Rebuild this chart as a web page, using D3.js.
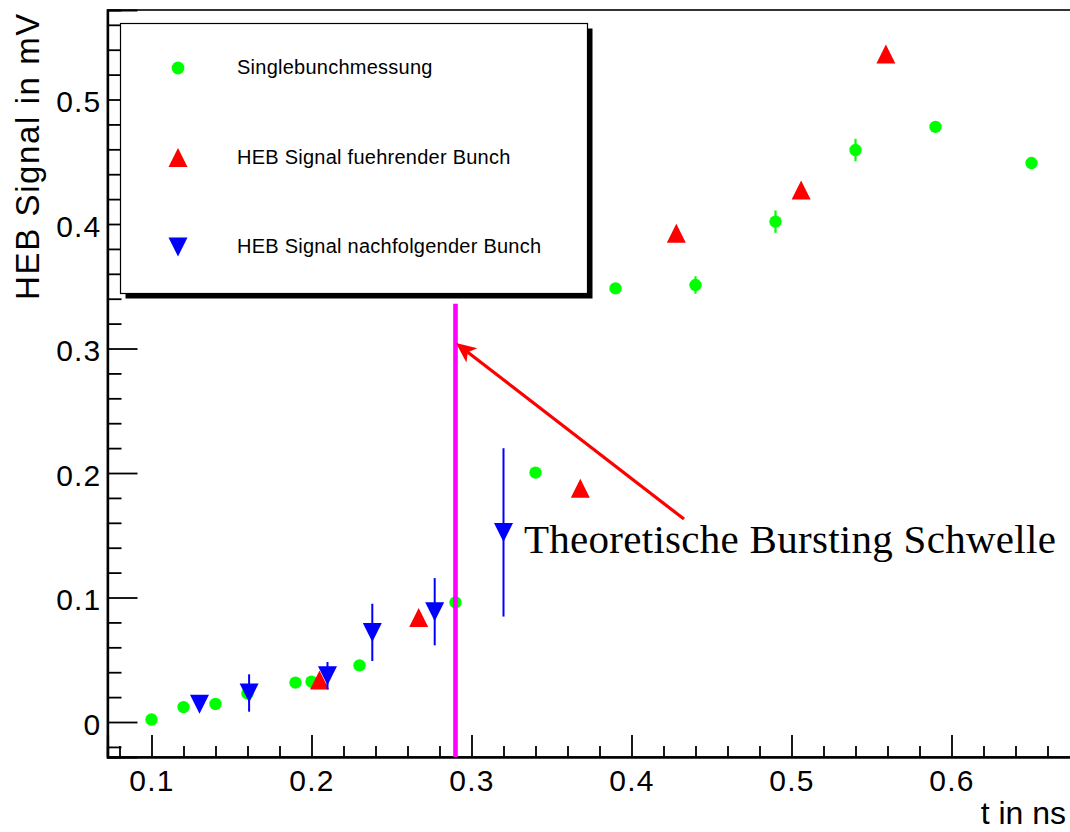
<!DOCTYPE html>
<html>
<head>
<meta charset="utf-8">
<script src="https://cdn.jsdelivr.net/npm/d3@7"></script>
<style>
  html, body { margin: 0; padding: 0; background: #fff; }
  svg { display: block; }
</style>
</head>
<body>
<svg id="chart" width="1070" height="832"></svg>
<script>
// ---- data ----
const singleX   = [0.10, 0.12, 0.14, 0.16, 0.19, 0.20, 0.23, 0.29, 0.34, 0.39, 0.44, 0.49, 0.54, 0.59, 0.65];
const singleY   = [0.002, 0.012, 0.0145, 0.023, 0.0316, 0.0324, 0.0455, 0.0961, 0.2003, 0.3483, 0.351, 0.4019, 0.4594, 0.478, 0.449];
const singleErr = [0, 0, 0, 0, 0, 0, 0, 0, 0, 0, 0.007, 0.009, 0.009, 0, 0];

const leadX = [0.205, 0.267, 0.368, 0.428, 0.506, 0.559];
const leadY = [0.0337, 0.084, 0.1877, 0.3925, 0.4273, 0.5366];

const trailX   = [0.13, 0.161, 0.21, 0.238, 0.277, 0.32];
const trailY   = [0.0142, 0.0233, 0.0372, 0.072, 0.0886, 0.1523];
const trailErr = [0, 0.015, 0.011, 0.023, 0.027, 0.0676];

const xMajorTicks = [0.1, 0.2, 0.3, 0.4, 0.5, 0.6];
const yMajorTicks = [0, 0.1, 0.2, 0.3, 0.4, 0.5];
const xTickLabels = ["0.1", "0.2", "0.3", "0.4", "0.5", "0.6"];
const yTickLabels = ["0", "0.1", "0.2", "0.3", "0.4", "0.5"];

const legendLabels = ["Singlebunchmessung", "HEB Signal fuehrender Bunch", "HEB Signal nachfolgender Bunch"];
const xTitle = "t in ns";
const yTitle = "HEB Signal in mV";
const annotationText = "Theoretische Bursting Schwelle";
const thresholdX = 0.29;
const thresholdTopY = 0.336;
const arrowFrom = [0.4328, 0.163];
const arrowTo = [0.2903, 0.3044];

// ---- layout ----
const svg = d3.select("#chart");
const X0 = 107.5, X1 = 1079.5, Y0 = 757, Y1 = 10;
const x = d3.scaleLinear().domain([0.0725, 0.68]).range([X0, X1]);
const y = d3.scaleLinear().domain([-0.0281, 0.5719]).range([Y0, Y1]);

const sans = "'Liberation Sans', Arial, Helvetica, sans-serif";
const serif = "'Liberation Serif', 'Times New Roman', serif";

// frame
svg.append("rect").attr("x", X0).attr("y", Y1).attr("width", X1 - X0).attr("height", Y0 - Y1)
  .attr("fill", "none").attr("stroke", "#000").attr("stroke-width", 1.6);

// minor ticks
const xMinor = d3.range(0.08, 0.681, 0.02).map(v => +v.toFixed(2)).filter(v => xMajorTicks.indexOf(v) < 0);
const yMinor = d3.range(-0.02, 0.571, 0.02).map(v => +v.toFixed(2)).filter(v => yMajorTicks.indexOf(v) < 0);

const gxMinor = svg.append("g").attr("transform", `translate(0,${Y0})`)
  .call(d3.axisBottom(x).tickValues(xMinor).tickSize(-11).tickFormat(""));
const gyMinor = svg.append("g").attr("transform", `translate(${X0},0)`)
  .call(d3.axisLeft(y).tickValues(yMinor).tickSize(-14).tickFormat(""));

const gx = svg.append("g").attr("transform", `translate(0,${Y0})`)
  .call(d3.axisBottom(x).tickValues(xMajorTicks).tickSize(-22).tickPadding(13)
    .tickFormat((d, i) => xTickLabels[i]));
const gy = svg.append("g").attr("transform", `translate(${X0},0)`)
  .call(d3.axisLeft(y).tickValues(yMajorTicks).tickSize(-30).tickPadding(6)
    .tickFormat((d, i) => yTickLabels[i]));

[gxMinor, gyMinor, gx, gy].forEach(g => {
  g.selectAll("path.domain").attr("stroke", "#000").attr("stroke-width", 2.2);
  g.selectAll(".tick line").attr("stroke", "#000").attr("stroke-width", 1.8);
  g.selectAll("text").attr("font-family", sans).attr("font-size", 30).attr("fill", "#000")
    .attr("letter-spacing", 1.2);
});
gy.selectAll("text").attr("dy", "0.41em");

// axis titles
svg.append("text").attr("x", 1066).attr("y", 824).attr("text-anchor", "end")
  .attr("font-family", sans).attr("font-size", 32).attr("fill", "#000").text(xTitle);
svg.append("text").attr("transform", "translate(39,12) rotate(-90)").attr("text-anchor", "end")
  .attr("font-family", sans).attr("font-size", 33).attr("letter-spacing", 1.6)
  .attr("fill", "#000").text(yTitle);

// markers
const triW = 19, triH = 19;
const triUp = (cx, cy) => `M${cx},${cy - triH / 2}L${cx + triW / 2},${cy + triH / 2}L${cx - triW / 2},${cy + triH / 2}Z`;
const triDown = (cx, cy) => `M${cx},${cy + triH / 2}L${cx + triW / 2},${cy - triH / 2}L${cx - triW / 2},${cy - triH / 2}Z`;

// green singlebunch
const gS = svg.append("g");
singleX.forEach((xv, i) => {
  if (singleErr[i] > 0) {
    gS.append("line").attr("x1", x(xv)).attr("x2", x(xv))
      .attr("y1", y(singleY[i] - singleErr[i])).attr("y2", y(singleY[i] + singleErr[i]))
      .attr("stroke", "#00ff00").attr("stroke-width", 2.2);
  }
  gS.append("circle").attr("cx", x(xv)).attr("cy", y(singleY[i])).attr("r", 6.2).attr("fill", "#00ff00");
});

// red leading bunch
const gL = svg.append("g");
leadX.forEach((xv, i) => {
  gL.append("path").attr("d", triUp(x(xv), y(leadY[i]))).attr("fill", "#ff0000");
});

// blue trailing bunch
const gT = svg.append("g");
trailX.forEach((xv, i) => {
  if (trailErr[i] > 0) {
    gT.append("line").attr("x1", x(xv)).attr("x2", x(xv))
      .attr("y1", y(trailY[i] - trailErr[i])).attr("y2", y(trailY[i] + trailErr[i]))
      .attr("stroke", "#0000ff").attr("stroke-width", 2);
  }
  gT.append("path").attr("d", triDown(x(xv), y(trailY[i]))).attr("fill", "#0000ff");
});

// threshold line
svg.append("line").attr("x1", x(thresholdX)).attr("x2", x(thresholdX))
  .attr("y1", Y0).attr("y2", y(thresholdTopY))
  .attr("stroke", "#ff00ff").attr("stroke-width", 4.6);

// arrow
const ax0 = x(arrowFrom[0]), ay0 = y(arrowFrom[1]), ax1 = x(arrowTo[0]), ay1 = y(arrowTo[1]);
const ang = Math.atan2(ay1 - ay0, ax1 - ax0);
const headLen = 22, headHalf = 0.42;
svg.append("line").attr("x1", ax0).attr("y1", ay0)
  .attr("x2", ax1 - Math.cos(ang) * 10).attr("y2", ay1 - Math.sin(ang) * 10)
  .attr("stroke", "#ff0000").attr("stroke-width", 3.2);
const b1 = [ax1 - headLen * Math.cos(ang - headHalf), ay1 - headLen * Math.sin(ang - headHalf)];
const b2 = [ax1 - headLen * Math.cos(ang + headHalf), ay1 - headLen * Math.sin(ang + headHalf)];
const notch = [ax1 - 15 * Math.cos(ang), ay1 - 15 * Math.sin(ang)];
svg.append("path").attr("d", `M${ax1},${ay1}L${b1[0]},${b1[1]}L${notch[0]},${notch[1]}L${b2[0]},${b2[1]}Z`)
  .attr("fill", "#ff0000");

// annotation text
svg.append("text").attr("x", 524).attr("y", 553).attr("font-family", serif).attr("font-size", 41)
  .attr("letter-spacing", 0.28).attr("fill", "#000").text(annotationText);

// legend
const LX = 120.5, LY = 23.5, LW = 467, LH = 270;
svg.append("rect").attr("x", LX + 5).attr("y", LY + 5).attr("width", LW).attr("height", LH).attr("fill", "#000");
svg.append("rect").attr("x", LX).attr("y", LY).attr("width", LW).attr("height", LH)
  .attr("fill", "#fff").attr("stroke", "#000").attr("stroke-width", 1.2);
const rowY = [68, 157.5, 247];
const mx = 178;
svg.append("circle").attr("cx", mx).attr("cy", rowY[0]).attr("r", 6.4).attr("fill", "#00ff00");
svg.append("path").attr("d", triUp(mx, rowY[1])).attr("fill", "#ff0000");
svg.append("path").attr("d", triDown(mx, rowY[2])).attr("fill", "#0000ff");
legendLabels.forEach((t, i) => {
  svg.append("text").attr("x", 237).attr("y", rowY[i]).attr("dy", "0.32em")
    .attr("font-family", sans).attr("font-size", 20).attr("letter-spacing", 0.25)
    .attr("fill", "#000").text(t);
});
</script>
</body>
</html>
